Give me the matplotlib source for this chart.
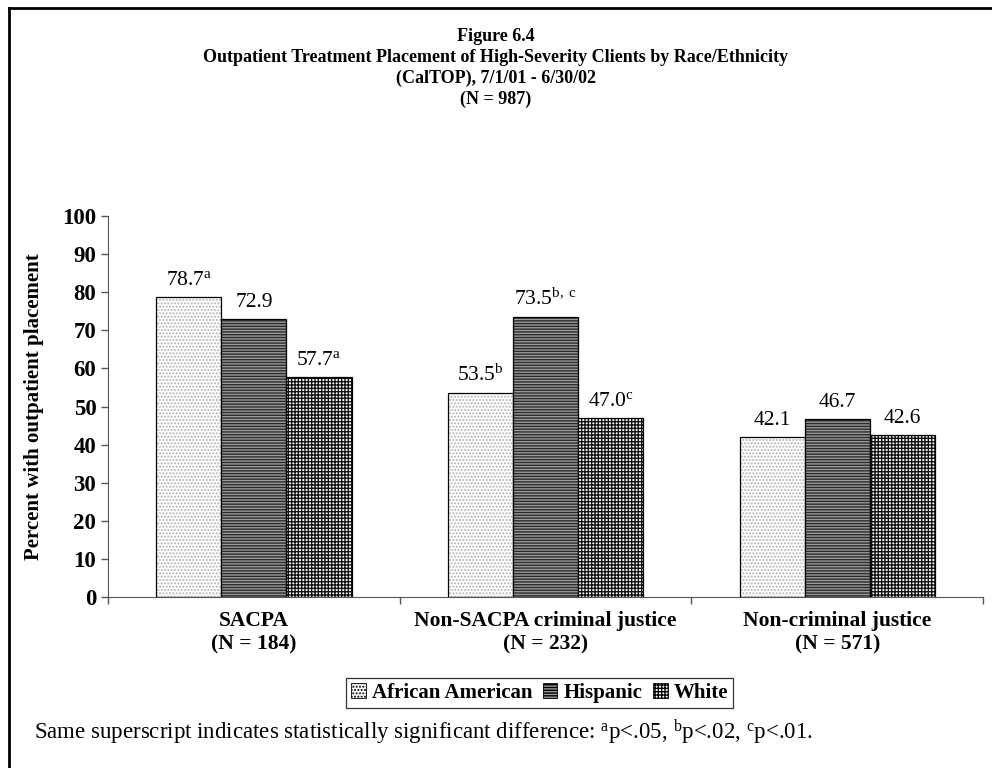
import matplotlib
matplotlib.use("Agg")
import matplotlib.pyplot as plt
from matplotlib.lines import Line2D
from matplotlib.patches import Patch
import numpy as np

# data
categories = ["SACPA\n(N = 184)", "Non-SACPA criminal justice\n(N = 232)",
              "Non-criminal justice\n(N = 571)"]
groups = ["African American", "Hispanic", "White"]
african_american = [78.7, 53.5, 42.1]
hispanic = [72.9, 73.5, 46.7]
white = [57.7, 47.0, 42.6]
sup_african_american = ["a", "b", ""]
sup_hispanic = ["", "b, c", ""]
sup_white = ["a", "c", ""]
y_ticks = list(range(0, 101, 10))

title = ("Figure 6.4\n"
         "Outpatient Treatment Placement of High-Severity Clients by Race/Ethnicity\n"
         "(CalTOP), 7/1/01 - 6/30/02\n"
         "(N = 987)")
footnote = (r"Same superscript indicates statistically significant difference: "
            r"$^{\mathrm{a}}$p<.05, $^{\mathrm{b}}$p<.02, $^{\mathrm{c}}$p<.01.")

plt.rcParams['font.family'] = 'Liberation Serif'
plt.rcParams['mathtext.fontset'] = 'custom'
plt.rcParams['mathtext.rm'] = 'Liberation Serif'
plt.rcParams['mathtext.it'] = 'Liberation Serif:italic'
plt.rcParams['mathtext.bf'] = 'Liberation Serif:bold'
plt.rcParams['hatch.linewidth'] = 1.0

# face colour, hatch, hatch colour per series
styles = [("white", ".....", "#b4b4b4"),
          ("#9a9a9a", "------", "#2a2a2a"),
          ("white", "+++++", "#111111")]

fig = plt.figure(figsize=(9.92, 7.68), dpi=100)
ax = fig.add_axes([0.109, 0.2227, 0.882, 0.496])

series = [african_american, hispanic, white]
sups = [sup_african_american, sup_hispanic, sup_white]
width = 0.223
x = np.arange(len(categories)) + 0.5
for i, (vals, sp, (fc, hatch, hc)) in enumerate(zip(series, sups, styles)):
    pos = x + (i - 1) * width
    # hatched fill first, then a plain black outline on top
    ax.bar(pos, vals, width, color=fc, hatch=hatch, edgecolor=hc, linewidth=0)
    ax.bar(pos, vals, width, fill=False, edgecolor="black", linewidth=0.9)
    for px, v, s in zip(pos, vals, sp):
        label = f"{v:.1f}" + (r"$^{\mathrm{%s}}$" % s.replace(" ", r"\ ") if s else "")
        ax.annotate(label, (px, v), xytext=(0, 5), textcoords="offset points",
                    ha="center", va="bottom", fontsize=15.5)

ax.set_xlim(0, 3)
ax.set_ylim(0, 100)
ax.set_yticks(y_ticks)
ax.set_yticklabels([str(t) for t in y_ticks], fontweight="bold", fontsize=16.5)
ax.set_xticks([0, 1, 2, 3])
ax.set_xticklabels([])
ax.tick_params(axis="both", direction="out", length=5, color="#555555", width=1)
for side in ["top", "right"]:
    ax.spines[side].set_visible(False)
for side in ["left", "bottom"]:
    ax.spines[side].set_color("#555555")

for cx, cat in zip(x, categories):
    ax.annotate(cat, (cx, 0), xytext=(0, -10), textcoords="offset points",
                ha="center", va="top", fontsize=15.5, fontweight="bold",
                linespacing=1.25)

ax.set_ylabel("Percent with outpatient placement", fontsize=15,
              fontweight="bold", labelpad=13)

fig.text(0.5, 0.963, title, ha="center", va="top", fontsize=13,
         fontweight="bold", linespacing=1.28)

handles = [Patch(facecolor=fc, hatch=h, edgecolor="black", linewidth=0.6)
           for fc, h, hc in styles]
leg = fig.legend(handles, groups, loc="center", bbox_to_anchor=(0.544, 0.098),
                 ncol=3, frameon=True, fancybox=False, edgecolor="black",
                 prop={"weight": "bold", "size": 15}, handlelength=0.7,
                 handleheight=0.7, handletextpad=0.3, columnspacing=0.5,
                 borderpad=0.25)
leg.get_frame().set_linewidth(0.9)

fig.text(0.034, 0.047, footnote, ha="left", va="center", fontsize=16.5)

# page frame
fig.add_artist(Line2D([0.009, 1.0], [0.99, 0.99], color="black", lw=2))
fig.add_artist(Line2D([0.009, 0.009], [0.0, 0.99], color="black", lw=2))

fig.savefig("out.png", dpi=100)
